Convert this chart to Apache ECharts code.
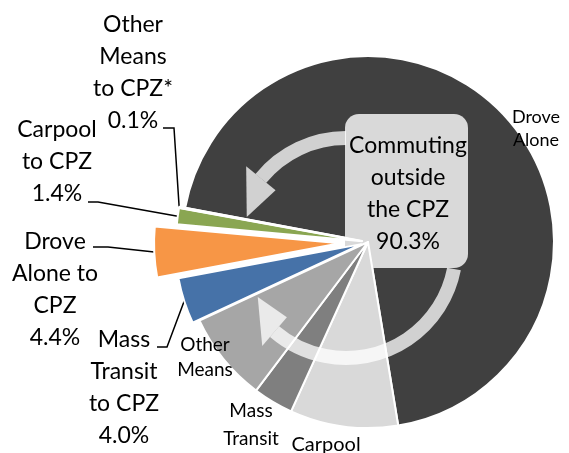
<!DOCTYPE html>
<html>
<head>
<meta charset="utf-8">
<title>Commuting and the CPZ</title>
<script src="https://cdn.jsdelivr.net/npm/echarts@6.0.0/dist/echarts.min.js"></script>
<style>
  html, body { margin: 0; padding: 0; background: #fff; }
  #chart { width: 569px; height: 453px; }
</style>
</head>
<body>
<div id="chart"></div>
<script>
  // commute mode shares in %, clockwise from the top left of the pie
  var modes = ['Drove Alone', 'Carpool', 'Mass Transit', 'Other Means',
               'Mass Transit to CPZ', 'Drove Alone to CPZ', 'Carpool to CPZ', 'Other Means to CPZ*'];
  var shares = [69.6, 9.4, 3.5, 7.8, 4.0, 4.4, 1.4, 0.1];
  var inCPZ = [false, false, false, false, true, true, true, true];
  var labelTexts = ['Drove\nAlone', 'Carpool', 'Mass\nTransit', 'Other\nMeans',
                    'Mass\nTransit\nto CPZ', 'Drove\nAlone to\nCPZ', 'Carpool\nto CPZ', 'Other\nMeans\nto CPZ*'];
  var modeColors = ['#404040', '#d9d9d9', '#7f7f7f', '#a6a6a6', '#4672a8', '#f79646', '#8aa652', '#8c8c8c'];

  var FONT = 'Lato';
  var CX = 368, CY = 242, R = 186, START = 169.4;
  var explode = [0, 0, 0, 0, 7, 28, 6, 6];
  // label top-centre positions, font sizes, line heights, and leader lines [labelX, elbowX, y]
  var labelAt = [[536, 106], [326, 432], [251, 397], [205, 332], [124, 324], [55, 226], [57, 114], [133, 9]];
  var labelSize = [18, 20, 19, 19, 23, 23, 23, 23];
  var labelLH = [23, 26, 28, 25, 32, 32, 32, 32];
  var leader = { 4: [157, 167, 347], 5: [93, 108, 247], 6: [88, 98, 202], 7: [163, 174, 128] };

  var total = shares.reduce(function (a, b) { return a + b; }, 0);
  var outsideTotal = 0;
  shares.forEach(function (v, i) { if (!inCPZ[i]) outsideTotal += v; });

  function midAngle(i) {
    var cum = 0;
    for (var k = 0; k < i; k++) cum += shares[k];
    return (90 - START) + (cum + shares[i] / 2) / total * 360;
  }

  function makeSeries(members, z) {
    var dx = 0, dy = 0;
    if (members.length === 1 && explode[members[0]]) {
      var th = midAngle(members[0]) * Math.PI / 180;
      dx = explode[members[0]] * Math.sin(th);
      dy = -explode[members[0]] * Math.cos(th);
    }
    return {
      type: 'pie',
      z: z,
      center: [CX + dx, CY + dy],
      radius: R,
      startAngle: START,
      clockwise: true,
      avoidLabelOverlap: false,
      silent: true,
      data: modes.map(function (name, i) {
        var on = members.indexOf(i) >= 0;
        return {
          name: name,
          value: shares[i],
          itemStyle: on ? { color: modeColors[i], borderColor: '#fff', borderWidth: 2 }
                        : { color: 'rgba(0,0,0,0)', borderWidth: 0 },
          label: on ? {
            show: true,
            position: 'outside',
            formatter: labelTexts[i] + (inCPZ[i] ? '\n' + shares[i].toFixed(1) + '%' : ''),
            fontFamily: FONT,
            fontSize: labelSize[i],
            lineHeight: labelLH[i],
            color: '#000',
            align: 'center'
          } : { show: false },
          labelLine: {
            show: on && inCPZ[i],
            lineStyle: { color: '#000', width: 1.5 }
          }
        };
      }),
      labelLayout: function (p) {
        var i = p.dataIndex;
        var pos = labelAt[i];
        var out = { x: pos[0], y: pos[1], align: 'center', verticalAlign: 'top' };
        if (leader[i] && p.labelLinePoints) {
          var L = leader[i];
          out.labelLinePoints = [p.labelLinePoints[0], [L[1], L[2]], [L[0], L[2]]];
        }
        return out;
      }
    };
  }

  // curved arrows (decoration)
  var AX = 346, AY = 248, AR = 110, BAND = 14, HEAD = 19;
  function rad(d) { return d * Math.PI / 180; }
  function pt(a, r) { return [AX + r * Math.cos(rad(a)), AY + r * Math.sin(rad(a))]; }
  function arrow(a0, a1, tipA, tipR, cw) {
    return [
      { type: 'arc', z: 4, silent: true,
        shape: { cx: AX, cy: AY, r: AR, startAngle: rad(a0), endAngle: rad(a1), clockwise: cw },
        style: { stroke: 'rgba(255,255,255,0.76)', lineWidth: BAND, fill: null } },
      { type: 'polygon', z: 4, silent: true,
        shape: { points: [pt(a1, AR + HEAD), pt(tipA, tipR), pt(a1, AR - HEAD)] },
        style: { fill: 'rgba(255,255,255,0.76)' } }
    ];
  }

  var graphics = [].concat(
    arrow(-90, -140.7, -162.6, 104, false),
    arrow(11, 130.5, 150.9, 101, true),
    [
      { type: 'rect', z: 2, silent: true,
        shape: { x: 345, y: 114, width: 123, height: 154, r: 14 },
        style: { fill: '#d9d9d9' } },
      { type: 'text', z: 5, silent: true, x: 408, y: 194,
        style: { text: 'Commuting\noutside\nthe CPZ\n' + outsideTotal.toFixed(1) + '%',
                 align: 'center', verticalAlign: 'middle',
                 fontFamily: FONT, fontSize: 23, lineHeight: 32, fill: '#000' } }
    ]
  );

  var chart = echarts.init(document.getElementById('chart'));
  chart.setOption({
    animation: false,
    backgroundColor: '#fff',
    series: [
      makeSeries([0], 1),
      makeSeries([1, 2, 3], 3),
      makeSeries([4], 3),
      makeSeries([5], 3),
      makeSeries([6], 3),
      makeSeries([7], 3)
    ],
    graphic: graphics
  });
</script>
</body>
</html>
